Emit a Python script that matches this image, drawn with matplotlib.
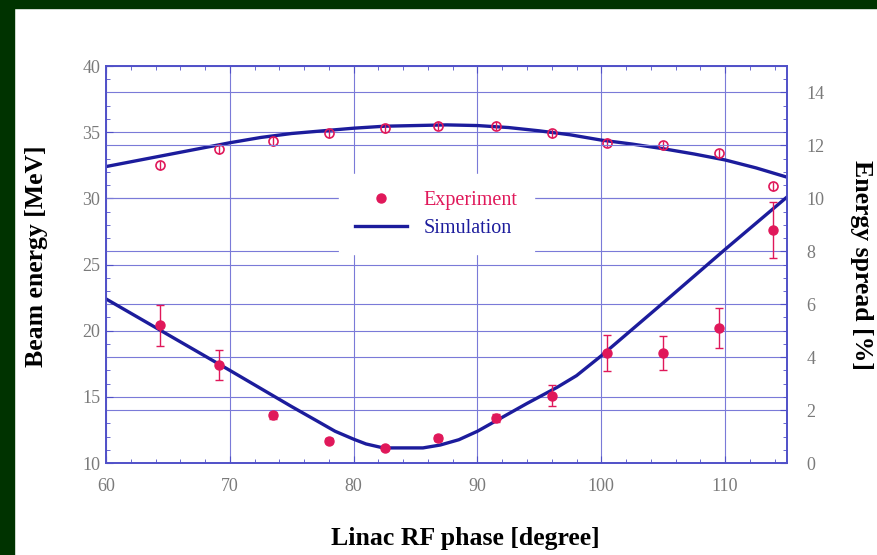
import numpy as np
import matplotlib.pyplot as plt
from matplotlib.lines import Line2D
from matplotlib.ticker import MultipleLocator

# phase [degree]
phase = [64.4, 69.1, 73.5, 78.0, 82.5, 86.8, 91.5, 96.0, 100.5, 105.0, 109.5, 113.9]
# beam energy, experiment [MeV]
energy = [32.5, 33.7, 34.3, 34.9, 35.3, 35.5, 35.5, 34.9, 34.2, 34.0, 33.4, 30.9]
# energy spread, experiment [%]
spread = [5.2, 3.7, 1.8, 0.85, 0.57, 0.95, 1.7, 2.55, 4.15, 4.15, 5.1, 8.8]
spread_err = [0.78, 0.57, 0.12, 0.08, 0.08, 0.1, 0.15, 0.38, 0.68, 0.63, 0.75, 1.05]

# simulation curves
sim_phase_e = [60, 62.5, 65, 67.5, 70, 72.5, 75, 77.5, 80, 82.5, 85, 87.5, 90,
               92.5, 95, 97.5, 100, 102.5, 105, 107.5, 110, 112.5, 115]
sim_energy = [32.4, 32.85, 33.3, 33.75, 34.2, 34.6, 34.9, 35.1, 35.3, 35.45, 35.5, 35.55,
              35.5, 35.35, 35.1, 34.8, 34.4, 34.1, 33.75, 33.35, 32.9, 32.3, 31.6]
sim_phase_s = [60, 65, 70, 75, 77, 78.5, 80, 81, 82.4, 85.6, 87, 88.5, 90, 91.6,
               94, 96.4, 98, 100, 105, 110, 115]
sim_spread = [6.2, 4.85, 3.5, 2.13, 1.6, 1.2, 0.9, 0.72, 0.57, 0.57, 0.68, 0.88, 1.2,
              1.62, 2.25, 2.85, 3.3, 4.05, 6.05, 8.07, 10.05]

red = '#e0185a'
navy = '#1c1c9c'
gridc = '#7a7ad8'
framec = '#5050c8'

plt.rcParams['font.family'] = ['Liberation Serif', 'DejaVu Serif']

fig = plt.figure(figsize=(8.78, 5.55), dpi=100)
fig.patch.set_facecolor('white')
# dark green border of the slide
fig.add_artist(plt.Rectangle((0, 1 - 8 / 555), 1, 8 / 555, transform=fig.transFigure,
                             color='#003300', zorder=0))
fig.add_artist(plt.Rectangle((0, 0), 14 / 878, 1, transform=fig.transFigure,
                             color='#003300', zorder=0))

ax = fig.add_axes([106 / 878, 1 - 463 / 555, 681 / 878, 397 / 555])
ax2 = ax.twinx()

ax.set_xlim(60, 115)
ax.set_ylim(10, 40)
ax2.set_ylim(0, 15)

ax.xaxis.set_major_locator(MultipleLocator(10))
ax.xaxis.set_minor_locator(MultipleLocator(2))
ax.yaxis.set_major_locator(MultipleLocator(5))
ax.yaxis.set_minor_locator(MultipleLocator(1))
ax2.yaxis.set_major_locator(MultipleLocator(2))
ax2.yaxis.set_minor_locator(MultipleLocator(0.5))

ax.grid(True, which='major', color=gridc, lw=0.8)
ax2.grid(True, which='major', axis='y', color=gridc, lw=0.8)

for a in (ax, ax2):
    for s in a.spines.values():
        s.set_color(framec)
        s.set_linewidth(1.2)
    a.tick_params(which='both', direction='in', colors=framec, labelcolor='#7a7a7a',
                  labelsize=13, top=True)
    a.tick_params(which='major', length=5)
    a.tick_params(which='minor', length=3)
ax.tick_params(axis='x', pad=11)
ax.tick_params(axis='y', pad=4)
ax2.tick_params(axis='y', pad=14)

# energy (left axis)
ax.plot(sim_phase_e, sim_energy, color=navy, lw=2.4)
ax.errorbar(phase, energy, yerr=0.35, fmt='o', mfc='none', mec=red, ecolor=red,
            ms=6.5, mew=1.2, elinewidth=1, capsize=0)

# energy spread (right axis)
ax2.plot(sim_phase_s, sim_spread, color=navy, lw=2.4)
ax2.errorbar(phase, spread, yerr=spread_err, fmt='o', color=red, ms=6.5,
             elinewidth=1, capsize=3)

ax.set_xlabel('Linac RF phase [degree]', fontsize=18.5, fontweight='bold', va='top')
ax.set_ylabel('Beam energy [MeV]', fontsize=18.5, fontweight='bold')
ax2.set_ylabel('Energy spread [%]', fontsize=18.5, fontweight='bold',
               rotation=270, va='bottom')
ax.xaxis.set_label_coords(0.527, -0.16)
ax.yaxis.set_label_coords(-0.085, 0.52)
ax2.yaxis.set_label_coords(1.092, 0.5)

handles = [Line2D([], [], ls='none', marker='o', color=red, ms=6.5),
           Line2D([], [], color=navy, lw=2.4)]
leg = ax2.legend(handles, ['Experiment', 'Simulation'], loc='center',
                 bbox_to_anchor=(0.485, 0.627), fontsize=14.5, frameon=True,
                 facecolor='white', edgecolor='white', framealpha=1,
                 handlelength=2.6, borderpad=0.8, labelspacing=0.45)
leg.get_texts()[0].set_color(red)
leg.get_texts()[1].set_color(navy)

fig.savefig('out.png', dpi=100, facecolor='white')
